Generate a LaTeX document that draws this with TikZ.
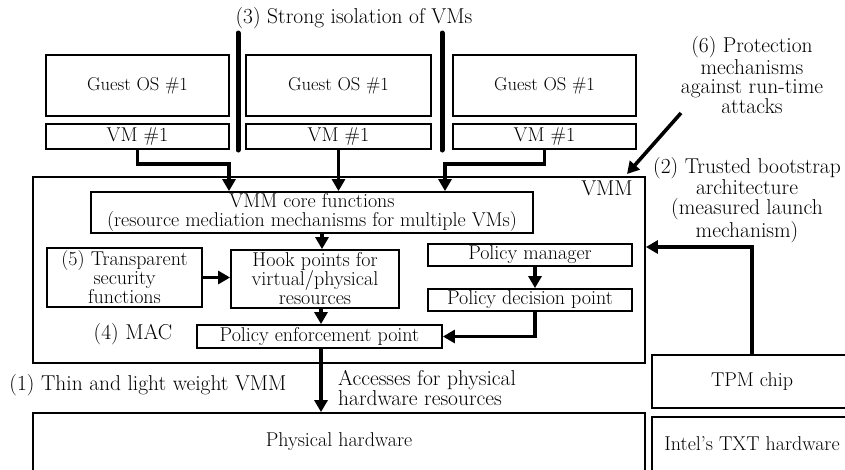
\documentclass[tikz,border=0pt]{standalone}
\usepackage{tikz}
\usetikzlibrary{arrows.meta,positioning}

\newcommand{\boxfont}{\fontsize{20}{19}\selectfont}
\newcommand{\guestfont}{\fontsize{18.6}{18}\selectfont}
\newcommand{\lblfont}{\fontsize{21.5}{19.5}\selectfont}

\tikzset{
  box/.style={draw,line width=1.8pt,inner sep=0pt,align=center,font=\boxfont},
  lbl/.style={inner sep=0pt,align=center,font=\lblfont},
  conn/.style={line width=3.6pt,-{Triangle[length=12pt,width=13pt]}},
  bar/.style={line width=5pt,line cap=round},
}

\begin{document}
\begin{tikzpicture}[x=1pt,y=-1pt]
                \useasboundingbox (0,0) rectangle (845,469);
                \clip (0,0) rectangle (845,469);

                \node[lbl] (iso) at (354,18) {(3) Strong isolation of VMs};
                \draw[bar] (238,33) -- (238,150);
                \draw[bar] (442,33) -- (442,150);

                \node[box,font=\guestfont,minimum width=183,minimum height=61] (gos1) at (137.5,85.5) {Guest OS \#1};
                \node[box,font=\guestfont,minimum width=185,minimum height=61] (gos2) at (338.5,85.5) {Guest OS \#1};
                \node[box,font=\guestfont,minimum width=183,minimum height=61] (gos3) at (544.5,85.5) {Guest OS \#1};
                \node[box,minimum width=183,minimum height=25] (vm1) at (137.5,136.5) {VM \#1};
                \node[box,minimum width=185,minimum height=25] (vm2) at (338.5,136.5) {VM \#1};
                \node[box,minimum width=183,minimum height=25] (vm3) at (544.5,136.5) {VM \#1};

                \node[box,minimum width=612,minimum height=186] (vmm) at (339,270) {};
                \node[lbl,anchor=north east] (vmmlbl) at ([xshift=-13,yshift=-5]vmm.north east) {VMM};

                \node[box,minimum width=442,minimum height=41] (core) at (312,212.5)
                    {VMM core functions\\(resource mediation mechanisms for multiple VMs)};
                \node[box,minimum width=155,minimum height=59] (tsf) at (124.5,277.5)
                    {(5) Transparent\\security\\functions};
                \node[box,minimum width=168,minimum height=58] (hook) at (315,279)
                    {Hook points for\\virtual/physical\\resources};
                \node[box,minimum width=245,minimum height=23] (pep) at (319.5,336.5) {Policy enforcement point};
                \node[box,minimum width=204,minimum height=22] (pm) at (530,255) {Policy manager};
                \node[box,minimum width=204,minimum height=22] (pdp) at (530,300) {Policy decision point};
                \node[lbl] (mac) at (133,334) {(4) MAC};

                \node[box,minimum width=612,minimum height=58] (phw) at (339,442) {Physical hardware};
                \node[box,minimum width=200,minimum height=53] (tpm) at (752,381.5) {TPM chip};
                \node[box,minimum width=200,minimum height=54] (txt) at (752,444) {Intel's TXT hardware};

                \node[lbl] (thin) at (148,385) {(1) Thin and light weight VMM};
                \node[lbl,anchor=west,align=left] (acc) at (338,388) {Accesses for physical\\hardware resources};
                \node[lbl] (prot) at (752,75) {(6) Protection\\mechanisms\\against run-time\\attacks};
                \node[lbl,font=\fontsize{21.5}{20}\selectfont] (boot) at (747,200)
                    {(2) Trusted bootstrap\\architecture\\(measured launch\\mechanism)};

                \coordinate (j1) at (229,164);
                \coordinate (j3) at (445,164);
                \draw[conn] (vm1.south) |- (j1) -- (j1 |- core.north);
                \draw[conn] (vm2.south) -- (vm2.south |- core.north);
                \draw[conn] (vm3.south) |- (j3) -- (j3 |- core.north);

                \coordinate (hin) at ([xshift=7]hook.north);
                \draw[conn] (hin |- core.south) -- (hin);
                \coordinate (hout) at ([xshift=6]hook.south);
                \draw[conn] (hout) -- (hout |- pep.north);
                \draw[conn] (tsf.east) -- (tsf.east -| hook.west);

                \coordinate (pmout) at ([xshift=5]pm.south);
                \draw[conn] (pmout) -- (pmout |- pdp.north);
                \draw[conn] (pmout |- pdp.south) |- (pep.east);

                \coordinate (pepout) at ([xshift=1.5]pep.south);
                \draw[conn] (pepout) -- (pepout |- phw.north);

                \coordinate (tpmin) at ([yshift=23]vmm.east);
                \draw[conn] (tpm.north) |- (tpmin);

                \coordinate (ptail) at (681,113);
                \coordinate (phead) at (627,174);
                \draw[conn] (ptail) -- (phead);
\end{tikzpicture}
\end{document}
